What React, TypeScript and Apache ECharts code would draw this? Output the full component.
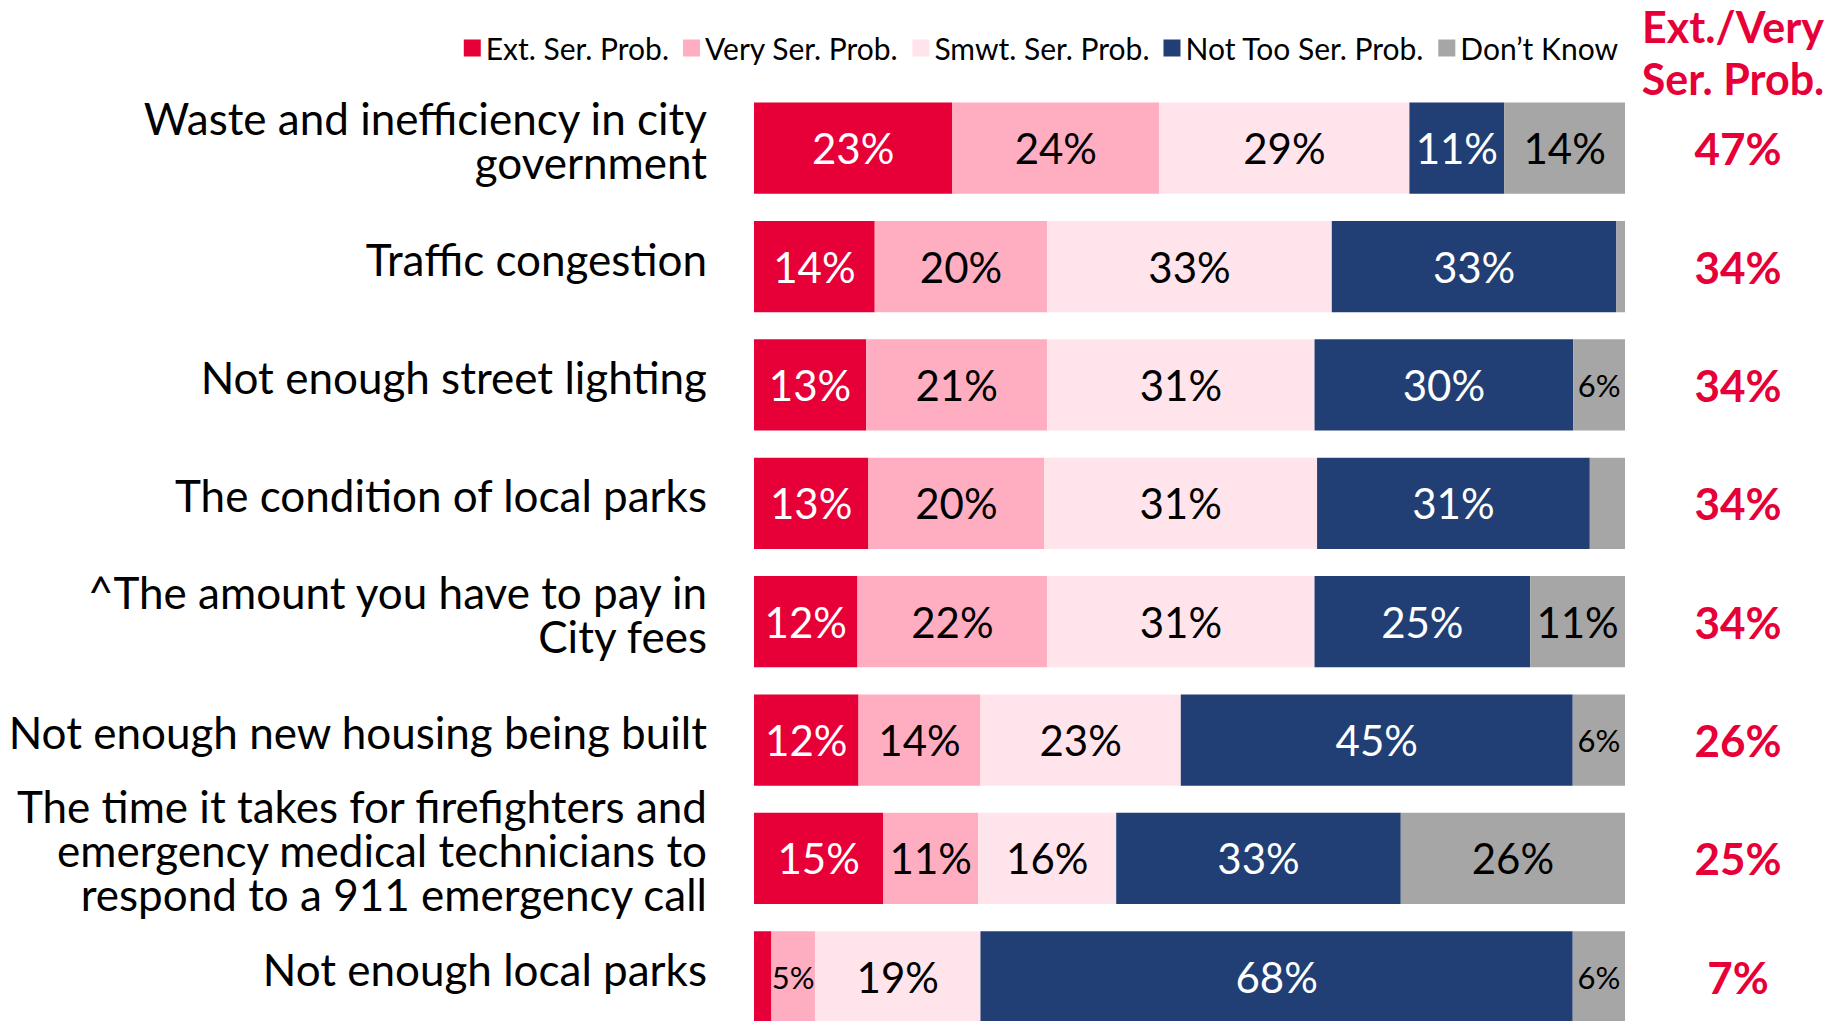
import React, { useEffect, useRef } from "react";
import * as echarts from "echarts";

const categories = [
  "Waste and inefficiency in city\ngovernment",
  "Traffic congestion",
  "Not enough street lighting",
  "The condition of local parks",
  "^The amount you have to pay in\nCity fees",
  "Not enough new housing being built",
  "The time it takes for firefighters and\nemergency medical technicians to\nrespond to a 911 emergency call",
  "Not enough local parks",
];
const seriesNames = ["Ext. Ser. Prob.", "Very Ser. Prob.", "Smwt. Ser. Prob.", "Not Too Ser. Prob.", "Don\u2019t Know"];
const extSer = [23, 14, 13, 13, 12, 12, 15, 2];
const verySer = [24, 20, 21, 20, 22, 14, 11, 5];
const smwtSer = [29, 33, 31, 31, 31, 23, 16, 19];
const notTooSer = [11, 33, 30, 31, 25, 45, 33, 68];
const dontKnow = [14, 1, 6, 4, 11, 6, 26, 6];
const extVeryTotals = [47, 34, 34, 34, 34, 26, 25, 7];
const headerText = "Ext./Very\nSer. Prob.";

const colors = ["#E60037", "#FFAEC1", "#FFE4EB", "#223F75", "#A6A6A6"];
const labelColors = ["#FFFFFF", "#000000", "#000000", "#FFFFFF", "#000000"];
const FONT = "Lato, 'Noto Sans', sans-serif";

export default function App() {
  const ref = useRef<HTMLDivElement>(null);
  useEffect(() => {
    if (!ref.current) return;
    const chart = echarts.init(ref.current, undefined, { renderer: "svg" });
    const all = [extSer, verySer, smwtSer, notTooSer, dontKnow];
    const rowSums = categories.map((_, i) => all.reduce((s, arr) => s + arr[i], 0));
    const series = all.map((arr, si) => ({
      name: seriesNames[si],
      type: "bar",
      stack: "total",
      barCategoryGap: "23%",
      yAxisIndex: 0,
      itemStyle: { color: colors[si] },
      label: {
        show: true,
        position: "inside",
        color: labelColors[si],
        fontFamily: FONT,
        fontSize: 42,
        formatter: (p: any) => `${arr[p.dataIndex]}%`,
      },
      data: arr.map((v, i) => {
        const item: any = { value: (v / rowSums[i]) * 100 };
        if (v < 5) item.label = { show: false };
        else if (v <= 6) item.label = { fontSize: 31 };
        return item;
      }),
    }));
    chart.setOption({
      animation: false,
      backgroundColor: "#FFFFFF",
      textStyle: { fontFamily: FONT },
      legend: {
        data: seriesNames,
        top: 28,
        right: 210,
        icon: "rect",
        itemWidth: 17,
        itemHeight: 17,
        itemGap: 14,
        textStyle: { fontSize: 30, color: "#000000", fontFamily: FONT },
      },
      grid: { left: 754, right: 208, top: 89, height: 947, containLabel: false },
      xAxis: { type: "value", min: 0, max: 100, show: false },
      yAxis: [
        {
          type: "category",
          inverse: true,
          data: categories,
          axisLine: { show: false },
          axisTick: { show: false },
          axisLabel: {
            margin: 47,
            fontSize: 44,
            lineHeight: 44,
            color: "#000000",
            fontFamily: FONT,
            align: "right",
            formatter: (v: string) =>
              v
                .split("\n")
                .map((l) => `{t|${l}}`)
                .join("\n") + "\n{s| }",
            rich: {
              t: { fontSize: 44, lineHeight: 44, color: "#000000", fontFamily: FONT },
              s: { fontSize: 2, lineHeight: 16 },
            },
          },
        },
        {
          type: "category",
          inverse: true,
          position: "right",
          data: extVeryTotals.map((v) => `${v}%`),
          axisLine: { show: false },
          axisTick: { show: false },
          axisLabel: {
            margin: 113,
            align: "center",
            fontSize: 44,
            fontWeight: "bold",
            color: "#E60037",
            fontFamily: FONT,
          },
        },
      ],
      graphic: [
        {
          type: "text",
          x: 1733,
          y: 52,
          style: {
            text: headerText,
            fill: "#E60037",
            font: `bold 43px ${FONT}`,
            lineHeight: 52,
            textAlign: "center",
            textVerticalAlign: "middle",
          },
        },
      ],
      series,
    });
    return () => chart.dispose();
  }, []);
  return (
    <div
      ref={ref}
      style={{ position: "fixed", left: 0, top: 0, width: 1833, height: 1040, background: "#fff" }}
    />
  );
}
